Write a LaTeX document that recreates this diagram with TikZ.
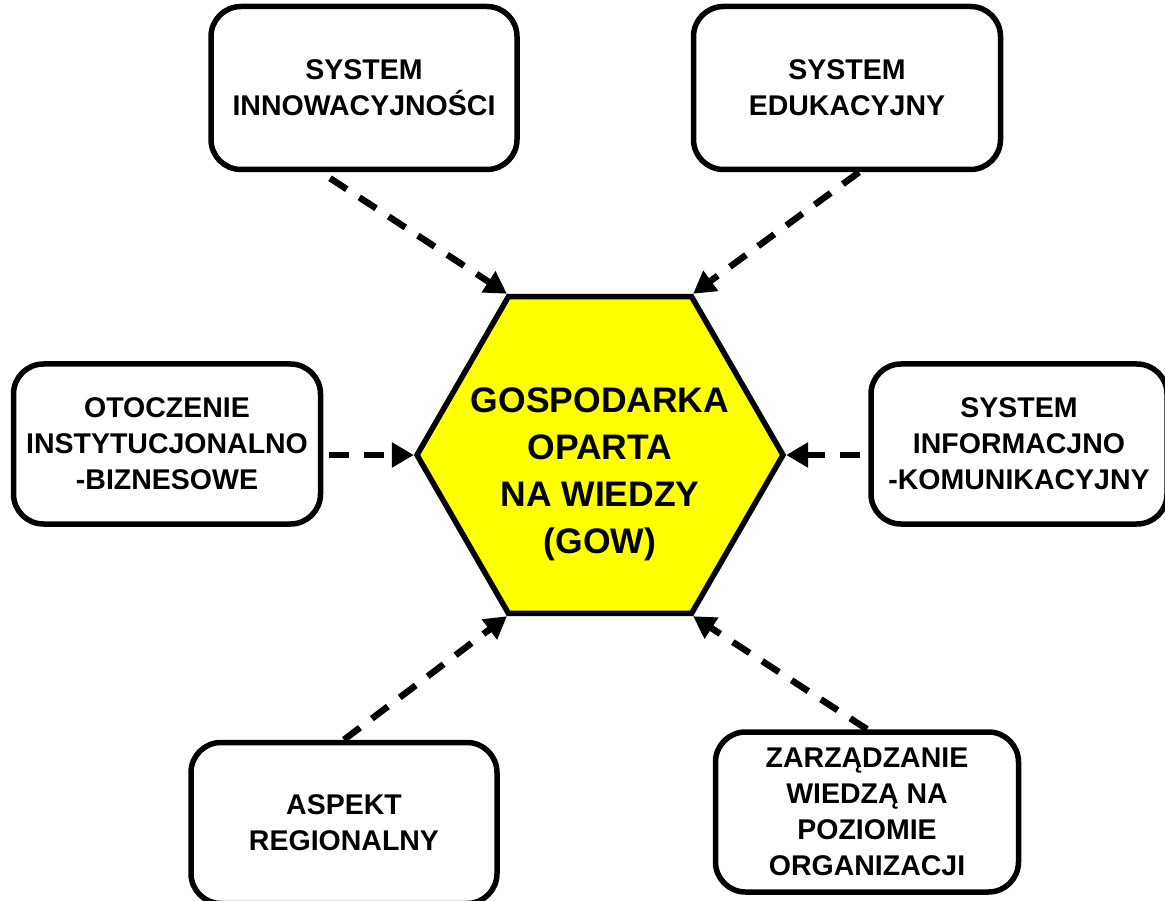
\documentclass[tikz,border=0pt]{standalone}
\usepackage{fontspec}
\setmainfont{Liberation Sans}
\usetikzlibrary{calc,positioning,shapes.geometric,arrows.meta}
\definecolor{gowyellow}{RGB}{255,255,0}

\tikzset{
  gowbox/.style={draw, line width=5.5pt, rounded corners=30pt, fill=white, align=center,
    font=\fontsize{28.5}{36}\selectfont\bfseries},
  dep/.style={line width=6.5pt, dash pattern=on 20pt off 15pt,
    -{Triangle[length=22pt,width=24pt]}}
}

\begin{document}
\begin{tikzpicture}[x=1pt,y=-1pt]
    \useasboundingbox (0,0) rectangle (1165,901);

    % Yellow hexagon in the middle
    \node[regular polygon, regular polygon sides=6, minimum size=366pt, inner sep=0pt,
          draw, line width=5.5pt, fill=gowyellow] (gow) at (600,455) {};
    \node[align=center, font=\fontsize{35.5}{47}\selectfont\bfseries] (gowtext)
          at ([yshift=-19pt]gow.center) {GOSPODARKA\\OPARTA\\NA WIEDZY\\(GOW)};

    % Rounded boxes around it
    \foreach \name/\x/\y/\w/\h/\txt in {
        inno/364/88/306/163/{SYSTEM\\INNOWACYJNOŚCI},
        edu/847/88/307/163/{SYSTEM\\EDUKACYJNY},
        oto/167/444/307/160/{OTOCZENIE\\INSTYTUCJONALNO\\-BIZNESOWE},
        info/1019/444/296/160/{SYSTEM\\INFORMACJNO\\-KOMUNIKACYJNY},
        asp/344/823/306/161/{ASPEKT\\REGIONALNY},
        zarz/867/812/303/160/{ZARZĄDZANIE\\WIEDZĄ NA\\POZIOMIE\\ORGANIZACJI}} {
        \node[gowbox, minimum width=\w pt, minimum height=\h pt] (\name) at (\x,\y) {\txt};
    }

    % Dashed arrows into the hexagon
    \draw[dep] ([xshift=-34pt,yshift=-6pt]inno.south) -- (gow.corner 2);
    \draw[dep] ([xshift=12pt]edu.south) -- (gow.corner 1);
    \draw[dep] ([xshift=6pt]oto.east |- gow.corner 3) -- (gow.corner 3);
    \draw[dep] ([xshift=-8pt]info.west |- gow.corner 6) -- (gow.corner 6);
    \draw[dep] (asp.north) -- (gow.corner 4);
    \draw[dep] (zarz.north) -- (gow.corner 5);

\end{tikzpicture}
\end{document}
